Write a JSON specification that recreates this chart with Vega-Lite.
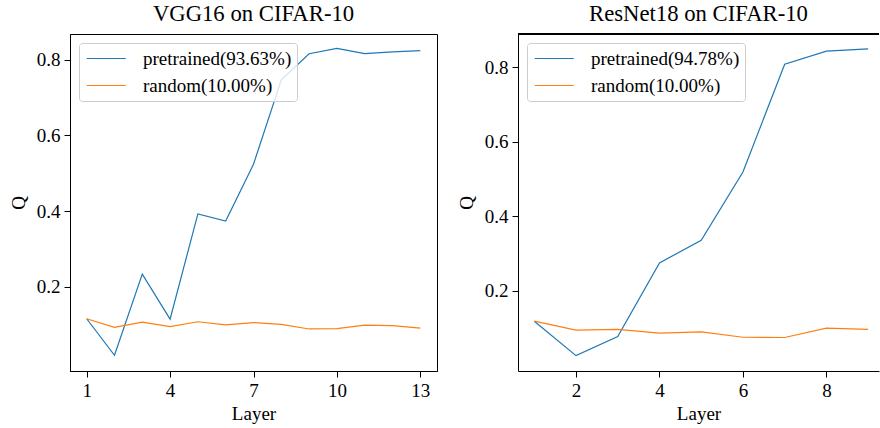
{
  "$schema": "https://vega.github.io/schema/vega-lite/v6.json",
  "padding": {"left": 8, "top": 2, "right": 0, "bottom": 0},
  "background": "white",
  "config": {
    "font": "Liberation Serif",
    "view": {"stroke": "black", "strokeWidth": 1},
    "axis": {
      "grid": false, "domainColor": "black", "domainWidth": 1, "tickColor": "black", "tickSize": 6, "tickWidth": 1,
      "labelPadding": 4, "labelFontSize": 19, "titleFontSize": 19, "labelColor": "black", "titleColor": "black",
      "titleFontWeight": "normal", "labelFont": "Liberation Serif", "titleFont": "Liberation Serif"
    },
    "axisY": {"titlePadding": 8},
    "axisX": {"titlePadding": 4},
    "title": {"fontSize": 22.7, "fontWeight": "normal", "font": "Liberation Serif", "color": "black", "offset": 8},
    "legend": {
      "orient": "top-left", "offset": 9, "strokeColor": "#cccccc", "fillColor": "rgba(255,255,255,0.8)",
      "cornerRadius": 3, "padding": 5, "symbolType": "M-0.8,0H3.2", "symbolSize": 380, "symbolStrokeWidth": 1.2,
      "labelFontSize": 19, "labelFont": "Liberation Serif", "labelColor": "black", "labelOffset": 38, "rowPadding": 6
    }
  },
  "datasets": {
    "vgg": [
      {"layer": 1, "Q": 0.116, "series": "pretrained(93.63%)"},
      {"layer": 2, "Q": 0.0195, "series": "pretrained(93.63%)"},
      {"layer": 3, "Q": 0.234, "series": "pretrained(93.63%)"},
      {"layer": 4, "Q": 0.115, "series": "pretrained(93.63%)"},
      {"layer": 5, "Q": 0.393, "series": "pretrained(93.63%)"},
      {"layer": 6, "Q": 0.374, "series": "pretrained(93.63%)"},
      {"layer": 7, "Q": 0.524, "series": "pretrained(93.63%)"},
      {"layer": 8, "Q": 0.747, "series": "pretrained(93.63%)"},
      {"layer": 9, "Q": 0.816, "series": "pretrained(93.63%)"},
      {"layer": 10, "Q": 0.83, "series": "pretrained(93.63%)"},
      {"layer": 11, "Q": 0.816, "series": "pretrained(93.63%)"},
      {"layer": 12, "Q": 0.821, "series": "pretrained(93.63%)"},
      {"layer": 13, "Q": 0.824, "series": "pretrained(93.63%)"},
      {"layer": 1, "Q": 0.116, "series": "random(10.00%)"},
      {"layer": 2, "Q": 0.0935, "series": "random(10.00%)"},
      {"layer": 3, "Q": 0.107, "series": "random(10.00%)"},
      {"layer": 4, "Q": 0.095, "series": "random(10.00%)"},
      {"layer": 5, "Q": 0.108, "series": "random(10.00%)"},
      {"layer": 6, "Q": 0.1, "series": "random(10.00%)"},
      {"layer": 7, "Q": 0.106, "series": "random(10.00%)"},
      {"layer": 8, "Q": 0.101, "series": "random(10.00%)"},
      {"layer": 9, "Q": 0.089, "series": "random(10.00%)"},
      {"layer": 10, "Q": 0.09, "series": "random(10.00%)"},
      {"layer": 11, "Q": 0.099, "series": "random(10.00%)"},
      {"layer": 12, "Q": 0.098, "series": "random(10.00%)"},
      {"layer": 13, "Q": 0.091, "series": "random(10.00%)"}
    ],
    "resnet": [
      {"layer": 1, "Q": 0.1187, "series": "pretrained(94.78%)"},
      {"layer": 2, "Q": 0.0265, "series": "pretrained(94.78%)"},
      {"layer": 3, "Q": 0.0775, "series": "pretrained(94.78%)"},
      {"layer": 4, "Q": 0.275, "series": "pretrained(94.78%)"},
      {"layer": 5, "Q": 0.336, "series": "pretrained(94.78%)"},
      {"layer": 6, "Q": 0.519, "series": "pretrained(94.78%)"},
      {"layer": 7, "Q": 0.808, "series": "pretrained(94.78%)"},
      {"layer": 8, "Q": 0.843, "series": "pretrained(94.78%)"},
      {"layer": 9, "Q": 0.849, "series": "pretrained(94.78%)"},
      {"layer": 1, "Q": 0.119, "series": "random(10.00%)"},
      {"layer": 2, "Q": 0.095, "series": "random(10.00%)"},
      {"layer": 3, "Q": 0.097, "series": "random(10.00%)"},
      {"layer": 4, "Q": 0.087, "series": "random(10.00%)"},
      {"layer": 5, "Q": 0.09, "series": "random(10.00%)"},
      {"layer": 6, "Q": 0.0757, "series": "random(10.00%)"},
      {"layer": 7, "Q": 0.075, "series": "random(10.00%)"},
      {"layer": 8, "Q": 0.1, "series": "random(10.00%)"},
      {"layer": 9, "Q": 0.097, "series": "random(10.00%)"}
    ]
  },
  "spacing": 19,
  "resolve": {
    "scale": {"x": "independent", "y": "independent", "color": "independent"},
    "axis": {"x": "independent", "y": "independent"},
    "legend": {"color": "independent"}
  },
  "hconcat": [
    {
      "width": 367,
      "height": 337,
      "title": "VGG16 on CIFAR-10",
      "data": {"name": "vgg"},
      "mark": {"type": "line", "strokeWidth": 1.2},
      "encoding": {
        "x": {"field": "layer", "type": "quantitative",
          "scale": {"domain": [0.4, 13.6], "nice": false, "zero": false},
          "axis": {"values": [1, 4, 7, 10, 13], "title": "Layer"}},
        "y": {"field": "Q", "type": "quantitative",
          "scale": {"domain": [-0.022, 0.868], "nice": false, "zero": false},
          "axis": {"values": [0.2, 0.4, 0.6, 0.8], "format": ".1f", "title": "Q"}},
        "color": {"field": "series", "type": "nominal",
          "scale": {"domain": ["pretrained(93.63%)", "random(10.00%)"], "range": ["#1f77b4", "#ff7f0e"]},
          "legend": {"title": null,
            "encode": {"symbols": {"update": {"stroke": {"signal": "indexof(datum.value, 'random') === 0 ? '#ff7f0e' : '#1f77b4'"}}}}}}
      }
    },
    {
      "width": 361,
      "height": 337,
      "title": "ResNet18 on CIFAR-10",
      "view": {"stroke": null},
      "data": {"name": "resnet"},
      "layer": [
        {
          "mark": {"type": "line", "strokeWidth": 1.2},
          "encoding": {
            "x": {"field": "layer", "type": "quantitative",
              "scale": {"domain": [0.61, 9.26], "nice": false, "zero": false},
              "axis": {"values": [2, 4, 6, 8], "title": "Layer"}},
            "y": {"field": "Q", "type": "quantitative",
              "scale": {"domain": [-0.0148, 0.889], "nice": false, "zero": false},
              "axis": {"values": [0.2, 0.4, 0.6, 0.8], "format": ".1f", "title": "Q"}},
            "color": {"field": "series", "type": "nominal",
              "scale": {"domain": ["pretrained(94.78%)", "random(10.00%)"], "range": ["#1f77b4", "#ff7f0e"]},
              "legend": {"title": null,
                "encode": {"symbols": {"update": {"stroke": {"signal": "indexof(datum.value, 'random') === 0 ? '#ff7f0e' : '#1f77b4'"}}}}}}
          }
        },
        {
          "mark": {"type": "rule", "color": "black", "strokeWidth": 1},
          "encoding": {"y": {"datum": 0.889}}
        }
      ]
    }
  ]
}
